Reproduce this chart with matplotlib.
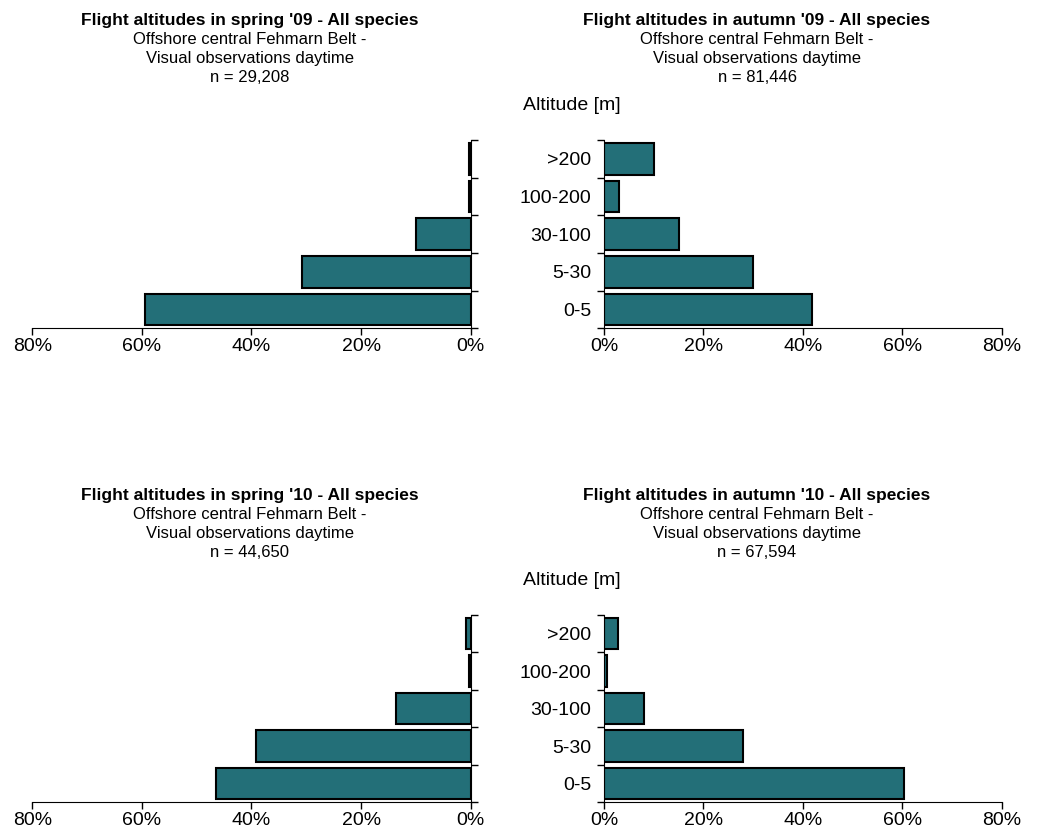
import matplotlib
matplotlib.use("Agg")
import matplotlib.pyplot as plt
import numpy as np

plt.rcParams['font.family'] = ['Liberation Sans', 'DejaVu Sans']

# altitude classes, bottom to top
categories = ['0-5', '5-30', '30-100', '100-200', '>200']

# share of birds per altitude class [%]
spring_09 = [59.4, 30.8, 9.9, 0.3, 0.3]
autumn_09 = [41.9, 30.0, 15.1, 3.0, 10.0]
spring_10 = [46.4, 39.1, 13.6, 0.4, 0.8]
autumn_10 = [60.4, 27.9, 8.1, 0.7, 2.8]

titles = ["Flight altitudes in spring '09 - All species",
          "Flight altitudes in autumn '09 - All species",
          "Flight altitudes in spring '10 - All species",
          "Flight altitudes in autumn '10 - All species"]
n_obs = ['29,208', '81,446', '44,650', '67,594']
sub_lines = ["Offshore central Fehmarn Belt -", "Visual observations daytime"]

xticks = [0, 20, 40, 60, 80]
bar_color = '#236F78'

W, H = 1061, 836
fig = plt.figure(figsize=(W / 100, H / 100), dpi=100)


def px_axes(x0, y0, x1, y1):
    # pixel box (top-left origin) -> axes
    return fig.add_axes([x0 / W, 1 - y1 / H, (x1 - x0) / W, (y1 - y0) / H])


def draw(ax, values, mirror):
    y = np.arange(len(categories))
    ax.barh(y, values, height=0.84, color=bar_color, edgecolor='black', linewidth=1.5)
    ax.set_xlim(80, 0) if mirror else ax.set_xlim(0, 80)
    ax.set_ylim(-0.5, len(categories) - 0.5)
    ax.set_xticks(xticks)
    ax.set_xticklabels(['%d%%' % t for t in xticks], fontsize=14)
    ax.set_yticks(np.arange(-0.5, len(categories), 1.0))
    ax.set_yticklabels([])
    ax.set_yticks(y, minor=True)
    ax.tick_params(axis='y', which='minor', length=0, labelsize=14, pad=9)
    ax.tick_params(axis='y', which='major', length=5, width=1, direction='out')
    ax.tick_params(axis='x', length=5, width=1, direction='out', pad=2)
    ax.spines['top'].set_visible(False)
    if mirror:
        ax.spines['left'].set_visible(False)
        ax.yaxis.set_ticks_position('right')
    else:
        ax.spines['right'].set_visible(False)
        ax.set_yticklabels(categories, minor=True)


panels = [
    (px_axes(32.3, 140, 470.7, 328.3), spring_09, True),
    (px_axes(604, 140, 1001.7, 328.3), autumn_09, False),
    (px_axes(32.3, 615, 470.7, 802.3), spring_10, True),
    (px_axes(604, 615, 1001.7, 802.3), autumn_10, False),
]
for ax, vals, mirror in panels:
    draw(ax, vals, mirror)

# chart titles (baselines in px)
centers = [(250, 0), (757, 0), (250, 475), (757, 475)]
for (cx, dy), t, n in zip(centers, titles, n_obs):
    fig.text(cx / W, 1 - (25 + dy) / H, t, ha='center', va='baseline',
             fontsize=12.5, fontweight='bold')
    for k, line in enumerate(sub_lines + ['n = ' + n]):
        fig.text(cx / W, 1 - (44 + 19 * k + dy) / H, line, ha='center',
                 va='baseline', fontsize=12)

for dy in (0, 475):
    fig.text(523 / W, 1 - (110 + dy) / H, 'Altitude [m]', ha='left',
             va='baseline', fontsize=14)

fig.savefig('out.png', dpi=100)
